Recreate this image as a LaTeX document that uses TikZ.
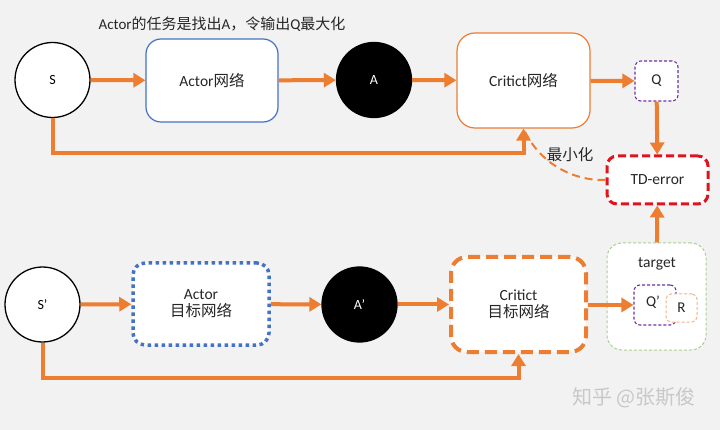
\documentclass[tikz,border=0pt]{standalone}
\usepackage{fontspec}
\setmainfont{Carlito}
\newfontfamily\cjk{Noto Sans CJK SC}
\usetikzlibrary{arrows.meta}
\definecolor{bg}{HTML}{F2F2F2}
\definecolor{org}{HTML}{ED7D31}
\definecolor{blu}{HTML}{4472C4}
\definecolor{pur}{HTML}{7030A0}
\definecolor{tdred}{HTML}{E0141E}
\definecolor{grn}{HTML}{A9D18E}
\definecolor{peach}{HTML}{F4B183}
\definecolor{wm}{HTML}{C8C8C8}
\begin{document}
\begin{tikzpicture}[x=1pt,y=-1pt,
  lbl/.style={font=\fontsize{15.5}{18}\selectfont, text=black!85},
  circ/.style={circle, draw=black, line width=1.3pt, fill=white, minimum size=75pt, inner sep=0pt, font=\fontsize{14}{16}\selectfont},
  blackcirc/.style={circ, fill=black, text=white},
  flow/.style={draw=org, line width=4pt, -{Triangle[length=12pt,width=14pt]}},
  box/.style={rectangle, fill=white, inner sep=0pt, align=center, font=\fontsize{15.5}{18}\selectfont, text=black!85}
]
\path[fill=bg] (0,0) rectangle (720,430);
\useasboundingbox (0,0) rectangle (720,430);

% top row
\node[lbl, font=\fontsize{15}{18}\selectfont] (title) at (222,24) {Actor{\cjk 的任务是找出}A{\cjk ，令输出}Q{\cjk 最大化}};
\node[circ] (S) at (52.5,80) {S};
\node[box, draw=blu, line width=1.2pt, rounded corners=15pt, minimum width=132pt, minimum height=83pt] (actor) at (212,80.5) {Actor{\cjk 网络}};
\node[blackcirc] (A) at (374,80) {A};
\node[box, draw=org, line width=1.2pt, rounded corners=18pt, minimum width=133pt, minimum height=95pt] (critic) at (523.5,80.5) {Critict{\cjk 网络}};
\node[box, draw=pur, line width=1.1pt, dash pattern=on 3pt off 2pt, rounded corners=6pt, minimum width=43pt, minimum height=40pt, font=\fontsize{15}{18}\selectfont] (Q) at (656.5,81) {Q};
\node[box, draw=tdred, line width=3pt, dash pattern=on 8pt off 4pt, rounded corners=10pt, minimum width=101pt, minimum height=48pt] (TD) at (657.5,180) {TD-error};

% bottom row
\node[circ] (S2) at (42.5,304.5) {S’};
\node[box, draw=blu, line width=3.5pt, dash pattern=on 3.5pt off 3.5pt, rounded corners=12pt, minimum width=136pt, minimum height=82pt] (actorT) at (201,304) {Actor\\[-1pt]{\cjk 目标网络}};
\node[blackcirc] (A2) at (359.5,304.5) {A’};
\node[box, draw=org, line width=4pt, dash pattern=on 12pt off 6pt, rounded corners=16pt, minimum width=135pt, minimum height=95pt] (criticT) at (518.5,304.5) {Critict\\[-1pt]{\cjk 目标网络}};
\node[box, draw=grn, line width=1pt, dash pattern=on 3pt off 2pt, rounded corners=15pt, minimum width=99pt, minimum height=107pt] (target) at (656.5,296.5) {};
\node[lbl] (ttext) at (657,264) {target};
\node[box, draw=pur, line width=1.1pt, dash pattern=on 3pt off 2pt, rounded corners=6pt, minimum width=42pt, minimum height=40pt, font=\fontsize{15}{18}\selectfont] (Q2) at (655,305) {};
\node[lbl, font=\fontsize{15}{18}\selectfont] (Q2t) at (653,302) {Q'};
\node[box, draw=peach, line width=1pt, dash pattern=on 3pt off 2pt, rounded corners=5pt, minimum width=31pt, minimum height=28pt, font=\fontsize{15}{18}\selectfont] (R) at (681.5,308) {R};

% connectors top
\draw[flow] (S) -- (actor);
\draw[flow] (actor) -- (A);
\draw[flow] (A) -- (critic);
\draw[flow] (critic) -- (Q);
\draw[flow] (Q) -- (TD);
\draw[org, line width=2pt, dash pattern=on 8pt off 5pt] (TD.west) .. controls (575,181) and (540,165) .. (critic.south);
\draw[flow] (S.south) |- (100,153) -| (critic.south);
\node[lbl] (min) at (570,155) {\cjk 最小化};

% connectors bottom
\draw[flow] (S2) -- (actorT);
\draw[flow] (actorT) -- (A2);
\draw[flow] (A2) -- (criticT);
\draw[flow] (criticT.east |- Q2.west) -- (Q2.west);
\draw[flow] (target) -- (TD);
\draw[flow] (S2.south) |- (100,378) -| (criticT.south);

\node[text=wm, font=\cjk\fontsize{20}{24}\selectfont] (wmark) at (634,398) {知乎 @张斯俊};
\end{tikzpicture}
\end{document}
